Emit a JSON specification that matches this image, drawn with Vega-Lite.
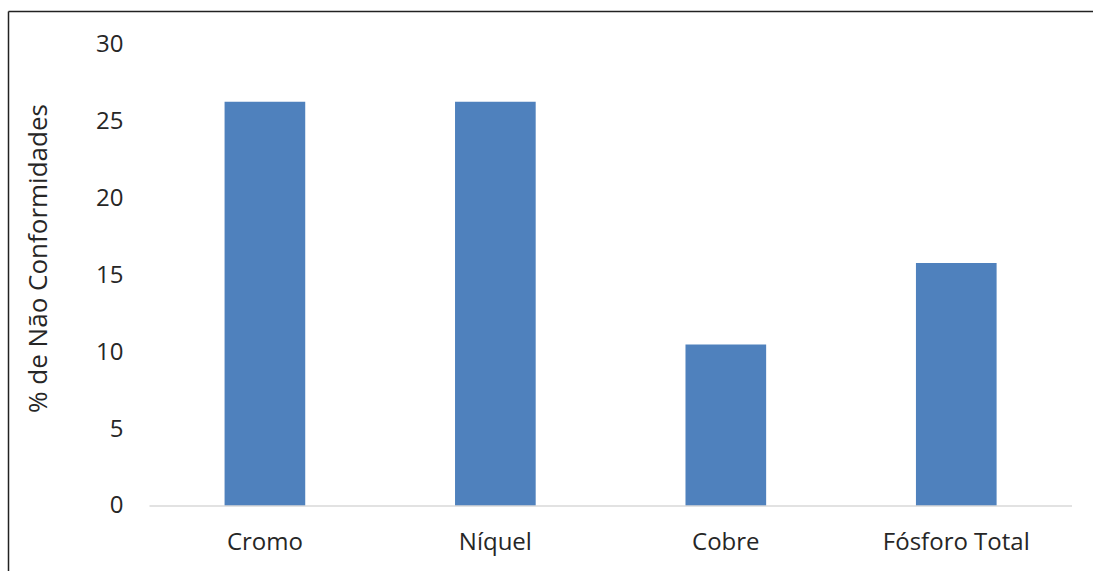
{
  "$schema": "https://vega.github.io/schema/vega-lite/v6.json",
  "width": 1085,
  "height": 560,
  "autosize": {"type": "none"},
  "padding": {"left": 8, "top": 11, "right": 0, "bottom": 0},
  "background": "white",
  "config": {
    "view": {"stroke": null},
    "font": "Open Sans",
    "axis": {
      "labelFont": "Open Sans",
      "titleFont": "Open Sans",
      "labelColor": "#262626",
      "titleColor": "#262626",
      "labelFontSize": 24,
      "titleFontSize": 26,
      "titleFontWeight": "normal",
      "grid": false,
      "ticks": false
    }
  },
  "data": {
    "values": [
      {"parametro": "Cromo", "pct": 26.3},
      {"parametro": "Níquel", "pct": 26.3},
      {"parametro": "Cobre", "pct": 10.5},
      {"parametro": "Fósforo Total", "pct": 15.8}
    ]
  },
  "layer": [
    {
      "mark": {"type": "bar", "color": "#4f81bd"},
      "encoding": {
        "x": {
          "field": "parametro",
          "type": "nominal",
          "scale": {
            "domain": ["Cromo", "Níquel", "Cobre", "Fósforo Total"],
            "paddingInner": 0.65,
            "paddingOuter": 0.679,
            "align": 0.692
          },
          "axis": {
            "orient": "bottom",
            "title": null,
            "domain": false,
            "labelAngle": 0,
            "labelBaseline": "alphabetic",
            "labelPadding": -22
          }
        },
        "y": {
          "field": "pct",
          "type": "quantitative",
          "scale": {"domain": [-4.23, 32.2], "nice": false, "zero": false},
          "axis": {
            "orient": "left",
            "title": "% de Não Conformidades",
            "values": [0, 5, 10, 15, 20, 25, 30],
            "domain": true,
            "domainColor": "#222222",
            "domainWidth": 1.5,
            "labelPadding": -115,
            "titleX": 38,
            "titleY": 247,
            "titleAngle": -90,
            "titleAlign": "center",
            "titleBaseline": "alphabetic"
          }
        },
        "y2": {"datum": 0}
      }
    },
    {
      "data": {"values": [{"eixo": "base"}]},
      "mark": {"type": "rule", "color": "#d9d9d9", "strokeWidth": 1.5},
      "encoding": {
        "x": {
          "datum": "Cromo",
          "type": "nominal",
          "bandPosition": -0.931,
          "scale": {
            "domain": ["Cromo", "Níquel", "Cobre", "Fósforo Total"],
            "paddingInner": 0.65,
            "paddingOuter": 0.679,
            "align": 0.692
          },
          "axis": {
            "orient": "top",
            "title": null,
            "labels": false,
            "domain": true,
            "domainColor": "#222222",
            "domainWidth": 1.5
          }
        },
        "x2": {"datum": "Fósforo Total", "bandPosition": 1.935},
        "y": {"datum": 0, "type": "quantitative"}
      }
    }
  ],
  "resolve": {"axis": {"x": "independent"}}
}
